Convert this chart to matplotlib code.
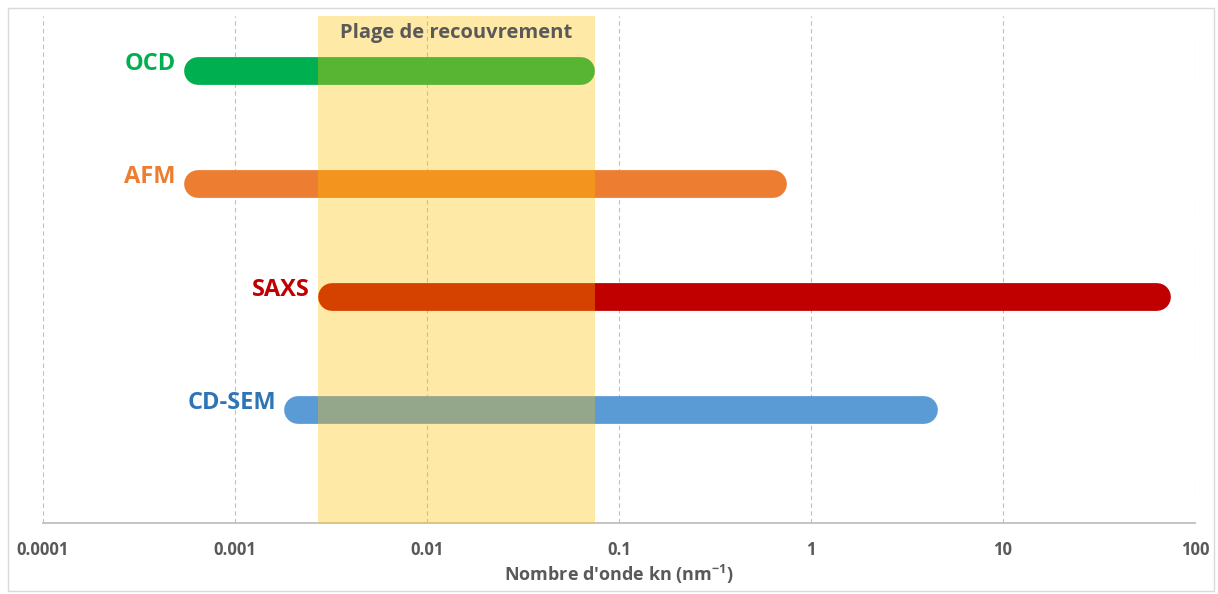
import numpy as np
import matplotlib
matplotlib.use("Agg")
import matplotlib.pyplot as plt
from matplotlib.patches import Rectangle

# Données : domaines de nombre d'onde couverts par chaque technique (nm^-1)
techniques = ["OCD", "AFM", "SAXS", "CD-SEM"]
k_min = [0.00054, 0.00054, 0.0027, 0.0018]
k_max = [0.075, 0.75, 75, 4.6]
couleurs = ["#00b050", "#ed7d31", "#c00000", "#5b9bd5"]
couleurs_texte = ["#00b050", "#ed7d31", "#c00000", "#2e75b6"]
positions = [4, 3, 2, 1]

# Plage de recouvrement
plage = [0.0027, 0.075]
ticks = [0.0001, 0.001, 0.01, 0.1, 1, 10, 100]
tick_labels = ["0.0001", "0.001", "0.01", "0.1", "1", "10", "100"]

plt.rcParams["font.family"] = ["Open Sans", "DejaVu Sans"]
plt.rcParams["mathtext.fontset"] = "custom"
plt.rcParams["mathtext.bf"] = "Open Sans:bold"
plt.rcParams["mathtext.rm"] = "Open Sans:bold"

DPI = 100
fig = plt.figure(figsize=(12.18, 5.94), dpi=DPI)
ax = fig.add_axes([43 / 1218, 71 / 594, (1195 - 43) / 1218, (523 - 16) / 594])

ax.set_xscale("log")
ax.set_xlim(1e-4, 100)
ax.set_ylim(0, 4.49)

# Grille verticale en pointillés
ax.set_xticks(ticks)
ax.set_xticklabels(tick_labels)
ax.minorticks_off()
ax.set_yticks([])
ax.grid(axis="x", color="#bfbfbf", linestyle=(0, (4, 3)), linewidth=0.8)
ax.set_axisbelow(True)
for s in ["left", "right", "top"]:
    ax.spines[s].set_visible(False)
ax.spines["bottom"].set_color("#bfbfbf")
ax.spines["bottom"].set_linewidth(1.3)
ax.tick_params(axis="x", length=0, pad=13, labelsize=12, labelcolor="#595959")
for lab in ax.get_xticklabels():
    lab.set_fontweight("bold")

ax.set_xlabel(r"Nombre d'onde kn (nm$^{-1}$)", fontsize=13, fontweight="bold",
              color="#595959", labelpad=3)

# Barres arrondies : on raccourcit les extrémités du rayon du bout arrondi
lw = 20
r_px = lw * DPI / 72 / 2
inv = ax.transData.inverted()
for nom, x0, x1, c, ct, y in zip(techniques, k_min, k_max, couleurs, couleurs_texte, positions):
    (p0, py), (p1, _) = ax.transData.transform([(x0, y), (x1, y)])
    a = inv.transform((p0 + r_px, py))[0]
    b = inv.transform((p1 - r_px, py))[0]
    ax.plot([a, b], [y, y], color=c, linewidth=lw, solid_capstyle="round", zorder=2)
    ax.annotate(nom, xy=(x0, y), xytext=(-8, 7), textcoords="offset pixels",
                ha="right", va="center", fontsize=17, fontweight="bold", color=ct)

# Bande jaune semi-transparente
ax.axvspan(plage[0], plage[1], color="#ffc000", alpha=0.35, linewidth=0, zorder=3)
ax.text(np.sqrt(plage[0] * plage[1]), 4.34, "Plage de recouvrement", ha="center",
        va="center", fontsize=14.5, fontweight="bold", color="#595959", zorder=4)

# Cadre du graphique
fig.patches.append(Rectangle((8 / 1218, 3 / 594), 1206 / 1218, 583 / 594,
                             transform=fig.transFigure, fill=False,
                             edgecolor="#d9d9d9", linewidth=1))

fig.savefig("out.png", dpi=DPI)
